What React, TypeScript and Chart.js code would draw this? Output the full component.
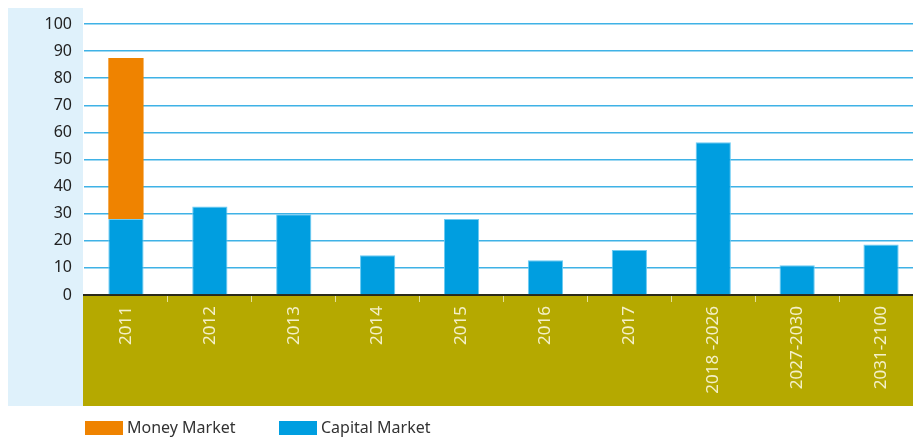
import React, { useEffect, useRef } from "react";
import { Chart, registerables } from "chart.js";

Chart.register(...registerables);

const categories = ["2011", "2012", "2013", "2014", "2015", "2016", "2017", "2018 -2026", "2027-2030", "2031-2100"];
const capitalMarket = [28, 32.7, 29.8, 14.7, 28, 12.8, 16.6, 56.4, 11, 18.6];
const moneyMarket = [59.5, 0, 0, 0, 0, 0, 0, 0, 0, 0];
const yTicks = [0, 10, 20, 30, 40, 50, 60, 70, 80, 90, 100];

const FONT = "'Noto Sans', 'Open Sans', sans-serif";

const backgroundPlugin = {
  id: "bgPanels",
  beforeDraw(chart: any) {
    const { ctx, chartArea } = chart;
    ctx.save();
    ctx.fillStyle = "#dff1fb";
    ctx.fillRect(8, 8, 75, 398);
    ctx.fillStyle = "#b5a900";
    ctx.fillRect(83, chartArea.bottom, chart.width - 83, 406 - chartArea.bottom);
    ctx.restore();
  },
  afterDraw(chart: any) {
    const { ctx } = chart;
    const ds = chart.data.datasets.slice().reverse();
    ctx.save();
    ctx.font = `16px ${FONT}`;
    ctx.textBaseline = "middle";
    const starts = [85, 279];
    ds.forEach((d: any, i: number) => {
      const x = starts[i];
      ctx.fillStyle = d.backgroundColor;
      ctx.fillRect(x, 421, 38, 14);
      ctx.fillStyle = "#333333";
      ctx.fillText(d.label, x + 42, 428);
    });
    ctx.restore();
  },
};

export default function App() {
  const ref = useRef<HTMLCanvasElement>(null);
  useEffect(() => {
    if (!ref.current) return;
    const chart = new Chart(ref.current, {
      type: "bar",
      data: {
        labels: categories,
        datasets: [
          {
            label: "Capital Market",
            data: capitalMarket,
            backgroundColor: "#009ee0",
            borderColor: "#6ccbf3",
            borderWidth: 1,
            categoryPercentage: 1,
            barPercentage: 0.42,
          },
          {
            label: "Money Market",
            data: moneyMarket,
            backgroundColor: "#ef8300",
            borderColor: "#ef8300",
            borderWidth: 0,
            categoryPercentage: 1,
            barPercentage: 0.42,
          },
        ],
      },
      options: {
        animation: false,
        responsive: false,
        maintainAspectRatio: false,
        layout: { padding: { top: 24, bottom: 31, left: 0, right: 0 } },
        plugins: { legend: { display: false }, tooltip: { enabled: false } },
        scales: {
          x: {
            stacked: true,
            grid: {
              drawOnChartArea: false,
              drawTicks: true,
              tickLength: 7,
              color: (c: any) => (c.index === 0 ? "rgba(0,0,0,0)" : "#e6e29a"),
              offset: true,
            },
            border: { display: true, color: "#2a2a1a", width: 2 },
            ticks: {
              color: "#f4f0c8",
              font: { family: FONT, size: 17 },
              maxRotation: 90,
              minRotation: 90,
              padding: 4,
              autoSkip: false,
            },
            afterFit(scale: any) {
              scale.height = 111;
              scale.paddingLeft = 0;
              scale.paddingRight = 0;
            },
          },
          y: {
            stacked: true,
            min: 0,
            max: 100,
            afterBuildTicks(scale: any) {
              scale.ticks = yTicks.map((v) => ({ value: v }));
            },
            grid: {
              drawTicks: false,
              color: (c: any) => (c.tick && c.tick.value === 0 ? "rgba(0,0,0,0)" : "#3fb2e6"),
              lineWidth: 1.5,
            },
            border: { display: false },
            ticks: {
              color: "#222222",
              font: { family: FONT, size: 16 },
              padding: 12,
            },
            afterFit(scale: any) {
              scale.width = 84;
              scale.paddingTop = 0;
              scale.paddingBottom = 0;
            },
          },
        },
      },
      plugins: [backgroundPlugin],
    });
    return () => chart.destroy();
  }, []);
  return (
    <div style={{ position: "fixed", left: 0, top: 0, width: 913, height: 437, overflow: "hidden", background: "#fff" }}>
      <canvas ref={ref} width={923} height={437} style={{ width: 923, height: 437, display: "block" }} />
    </div>
  );
}
